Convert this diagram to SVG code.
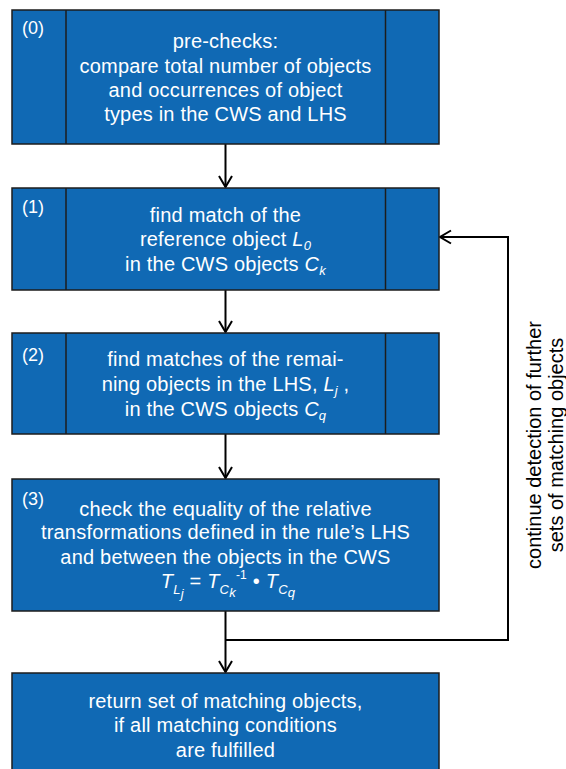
<svg xmlns="http://www.w3.org/2000/svg" width="566" height="769" viewBox="0 0 566 769">
<style>
.box{fill:#1069B4;stroke:#1c1c1c;stroke-width:1.5}
.div{stroke:#1c1c1c;stroke-width:1.5}
.t{font-family:"Liberation Sans",Arial,sans-serif;font-size:20px;fill:#fff;text-anchor:middle;letter-spacing:0.2px}
.n{font-family:"Liberation Sans",Arial,sans-serif;font-size:18px;fill:#fff}
.i{font-style:italic}
.s{font-size:13px;font-style:italic}
.c{fill:none;stroke:#000;stroke-width:2}
.v{font-family:"Liberation Sans",Arial,sans-serif;font-size:20px;fill:#000;text-anchor:middle}
</style>
<defs>
<marker id="ah" markerUnits="userSpaceOnUse" markerWidth="16" markerHeight="18" viewBox="-13 -9 16 18" refX="0" refY="0" orient="auto" overflow="visible">
<path d="M-11,-6.5 L0,0 L-11,6.5" fill="none" stroke="#000" stroke-width="2"/>
</marker>
</defs>
<g id="connectors">
<line class="c" x1="225.5" y1="144" x2="225.5" y2="187" marker-end="url(#ah)"/>
<line class="c" x1="225.5" y1="290" x2="225.5" y2="332" marker-end="url(#ah)"/>
<line class="c" x1="225.5" y1="434" x2="225.5" y2="478" marker-end="url(#ah)"/>
<line class="c" x1="225.5" y1="611" x2="225.5" y2="672" marker-end="url(#ah)"/>
<polyline class="c" points="225.5,640 508,640 508,237 440,237" marker-end="url(#ah)"/>
<text class="v" transform="rotate(-90)" x="-445" y="541">continue detection of further</text>
<text class="v" transform="rotate(-90)" x="-445" y="563">sets of matching objects</text>
</g>
<g id="step0">
<rect class="box" x="12" y="10" width="427" height="134"/>
<line class="div" x1="66" y1="10" x2="66" y2="144"/>
<line class="div" x1="385.5" y1="10" x2="385.5" y2="144"/>
<text class="n" x="22" y="34">(0)</text>
<text class="t" x="225.5" y="48">pre-checks:</text>
<text class="t" x="225.5" y="72.5">compare total number of objects</text>
<text class="t" x="225.5" y="96.5">and occurrences of object</text>
<text class="t" x="225.5" y="120.5">types in the CWS and LHS</text>
</g>
<g id="step1">
<rect class="box" x="12" y="188" width="427" height="102"/>
<line class="div" x1="66" y1="188" x2="66" y2="290"/>
<line class="div" x1="385.5" y1="188" x2="385.5" y2="290"/>
<text class="n" x="22" y="213">(1)</text>
<text class="t" x="225.5" y="221.5">find match of the</text>
<text class="t" x="225.5" y="246">reference object <tspan class="i">L</tspan><tspan class="s" dy="4">0</tspan></text>
<text class="t" x="225.5" y="270.5">in the CWS objects <tspan class="i">C</tspan><tspan class="s" dy="4">k</tspan></text>
</g>
<g id="step2">
<rect class="box" x="12" y="333" width="427" height="101"/>
<line class="div" x1="66" y1="333" x2="66" y2="434"/>
<line class="div" x1="385.5" y1="333" x2="385.5" y2="434"/>
<text class="n" x="22" y="361">(2)</text>
<text class="t" x="225.5" y="366">find matches of the remai-</text>
<text class="t" x="225.5" y="391">ning objects in the LHS, <tspan class="i">L</tspan><tspan class="s" dy="4">j</tspan><tspan dy="-4"> ,</tspan></text>
<text class="t" x="225.5" y="415.5">in the CWS objects <tspan class="i">C</tspan><tspan class="s" dy="4">q</tspan></text>
</g>
<g id="step3">
<rect class="box" x="12" y="479" width="427" height="132"/>
<text class="n" x="22" y="505">(3)</text>
<text class="t" x="225.5" y="515.5">check the equality of the relative</text>
<text class="t" x="225.5" y="539">transformations defined in the rule’s LHS</text>
<text class="t" x="225.5" y="564">and between the objects in the CWS</text>
<text class="t" x="228" y="588"><tspan class="i">T</tspan><tspan class="s" dy="6">L</tspan><tspan class="s" font-size="11" dy="4">j</tspan><tspan dy="-10"> = </tspan><tspan class="i">T</tspan><tspan class="s" dy="6">C</tspan><tspan class="s" font-size="11" dy="3">k</tspan><tspan font-size="12" font-style="normal" dy="-18">-1</tspan><tspan dy="9"> • </tspan><tspan class="i">T</tspan><tspan class="s" dy="6">C</tspan><tspan class="s" font-size="11" dy="3">q</tspan></text>
</g>
<g id="result">
<rect class="box" x="12" y="673" width="427" height="110"/>
<text class="t" x="225.5" y="708">return set of matching objects,</text>
<text class="t" x="225.5" y="732">if all matching conditions</text>
<text class="t" x="225.5" y="757">are fulfilled</text>
</g>
</svg>
